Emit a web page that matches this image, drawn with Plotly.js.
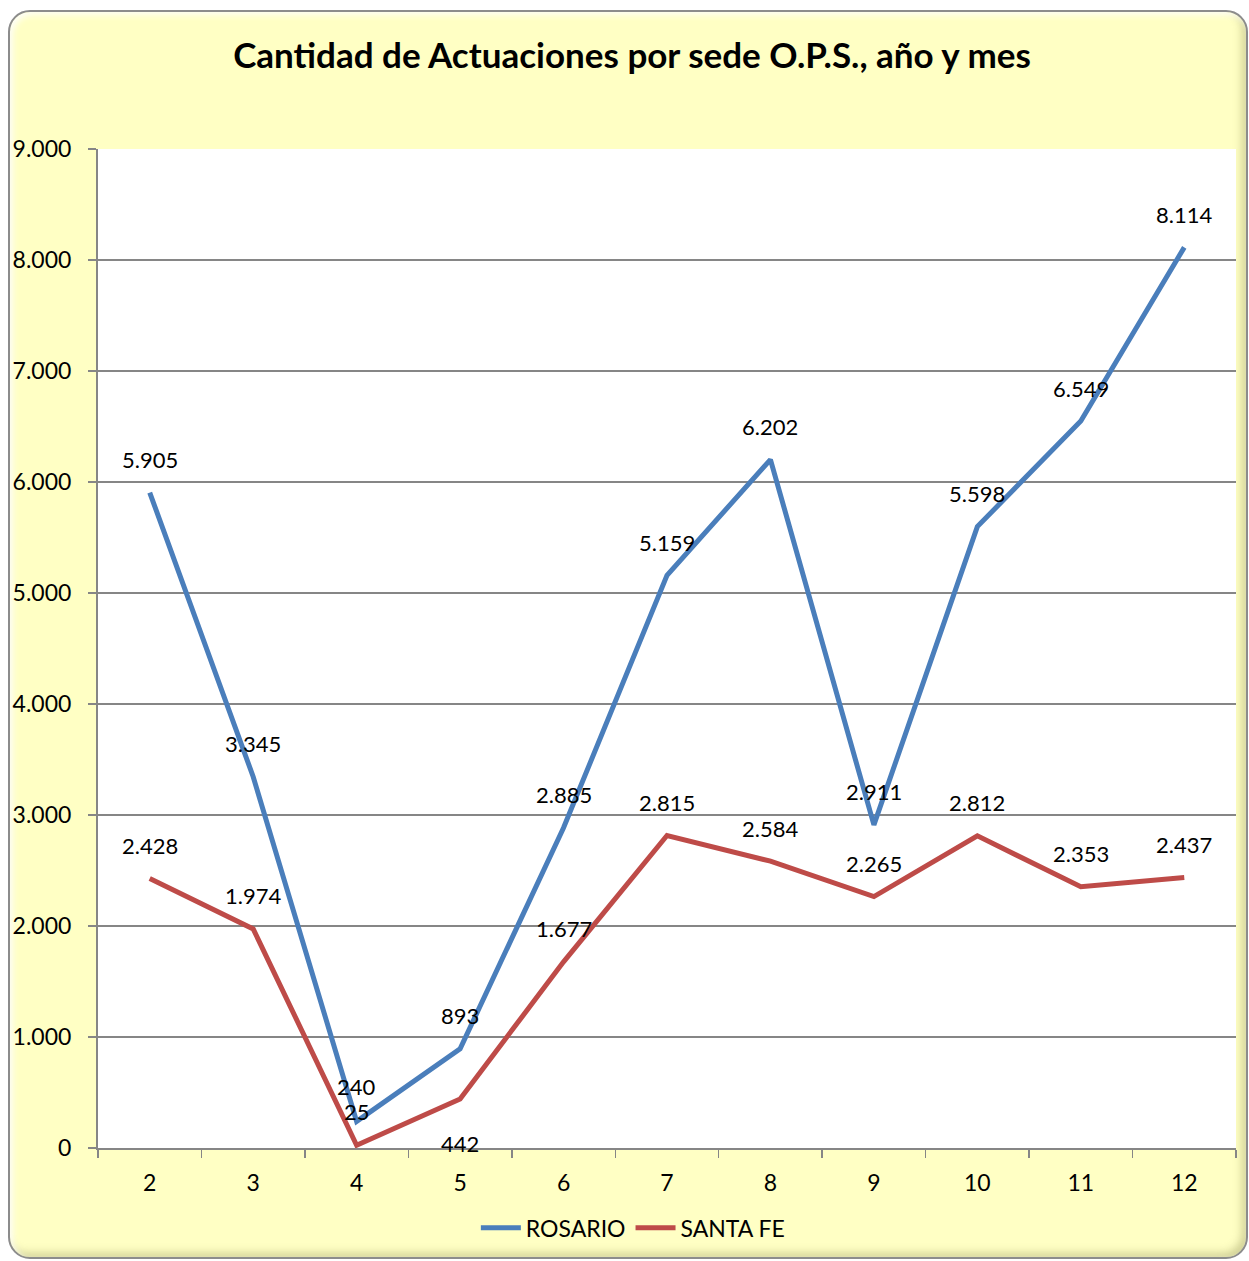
<!DOCTYPE html>
<html>
<head>
<meta charset="utf-8">
<script src="https://cdn.plot.ly/plotly-3.0.1.min.js"></script>
<style>
  html, body { margin: 0; padding: 0; background: #ffffff; }
  #frame {
    position: absolute; left: 8px; top: 10px; width: 1236px; height: 1245px;
    border: 2px solid #8c8c8c; border-radius: 22px;
    background: #FFFFC4;
    box-shadow: inset 3px 3px 6px rgba(255,255,255,0.9), inset -4px -4px 8px rgba(150,150,90,0.45);
  }
  #chart { position: absolute; left: 0; top: 0; width: 1249px; height: 1261px; }
</style>
</head>
<body>
<div id="frame"></div>
<div id="chart"></div>
<script>
const months = ['2','3','4','5','6','7','8','9','10','11','12'];
const rosario = [5905, 3345, 240, 893, 2885, 5159, 6202, 2911, 5598, 6549, 8114];
const santaFe = [2428, 1974, 25, 442, 1677, 2815, 2584, 2265, 2812, 2353, 2437];
const yTicks = [0, 1000, 2000, 3000, 4000, 5000, 6000, 7000, 8000, 9000];

function fmt(v) {
  return String(v).replace(/\B(?=(\d{3})+(?!\d))/g, '.');
}

const FONT = 'Lato, "Open Sans", sans-serif';

const traces = [
  { x: months, y: rosario, name: 'ROSARIO', type: 'scatter', mode: 'lines',
    line: { color: '#4A7EBB', width: 5 } },
  { x: months, y: santaFe, name: 'SANTA FE', type: 'scatter', mode: 'lines',
    line: { color: '#BE4B48', width: 5 } }
];

const annotations = [];
months.forEach((m, i) => {
  annotations.push({ xref: 'x', yref: 'y', x: i, y: rosario[i], text: fmt(rosario[i]), showarrow: false,
    yshift: rosario[i] === 240 ? 35 : 33, font: { size: 22, color: '#000', family: FONT } });
  const below = santaFe[i] === 442;
  annotations.push({ xref: 'x', yref: 'y', x: i, y: santaFe[i], text: fmt(santaFe[i]), showarrow: false,
    yshift: below ? -45 : (santaFe[i] === 25 ? 34 : 33), font: { size: 22, color: '#000', family: FONT } });
});

const layout = {
  width: 1249, height: 1261,
  margin: { l: 98, r: 13, t: 149, b: 113 },
  paper_bgcolor: 'rgba(0,0,0,0)',
  plot_bgcolor: '#ffffff',
  separators: ',.',
  font: { family: FONT, size: 23, color: '#000' },
  title: { text: '<b>Cantidad de Actuaciones por sede O.P.S., año y mes</b>',
    font: { family: FONT, size: 35, color: '#000' },
    x: 0.506, xanchor: 'center', y: 0.956, yanchor: 'middle' },
  xaxis: {
    type: 'category', tickson: 'boundaries', ticks: 'outside', ticklen: 8,
    tickcolor: '#868686', tickwidth: 1.5,
    showline: true, linecolor: '#868686', linewidth: 2,
    showgrid: false, tickfont: { size: 23, family: FONT }, ticklabelstandoff: 13,
    range: [-0.5, 10.5]
  },
  yaxis: {
    range: [0, 9000], tickvals: yTicks, ticktext: yTicks.map(fmt),
    ticks: 'outside', ticklen: 8, tickcolor: '#868686', tickwidth: 1.5,
    showline: true, linecolor: '#868686', linewidth: 2,
    showgrid: true, gridcolor: '#868686', gridwidth: 1.5,
    zeroline: false, tickfont: { size: 23, family: FONT }, ticklabelstandoff: 12
  },
  legend: { orientation: 'h', x: 0.47, xanchor: 'center', y: -0.08, yanchor: 'middle',
    font: { size: 23, family: FONT }, bgcolor: 'rgba(0,0,0,0)', itemwidth: 40 },
  annotations: annotations,
  showlegend: true
};

Plotly.newPlot('chart', traces, layout, { displayModeBar: false, staticPlot: true });
</script>
</body>
</html>
